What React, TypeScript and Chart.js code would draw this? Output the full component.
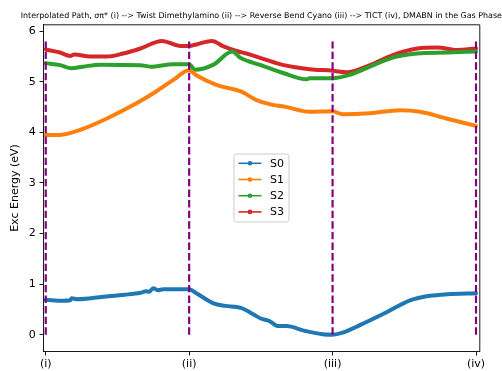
import React, { useEffect, useRef } from "react";
import { Chart, registerables } from "chart.js";

Chart.register(...registerables);

// Path coordinate (0 = (i), 1 = (ii), 2 = (iii), 3 = (iv)) and excitation energies in eV
const s0X = [0, 0.12, 0.17, 0.18, 0.22, 0.4, 0.55, 0.66, 0.7, 0.72, 0.75, 0.78, 0.82, 1.0, 1.05, 1.17, 1.25, 1.36, 1.45, 1.5, 1.56, 1.62, 1.68, 1.8, 1.93, 2.0, 2.07, 2.19, 2.38, 2.54, 2.68, 2.8, 3.0];
const s0Y = [0.69, 0.67, 0.68, 0.72, 0.7, 0.75, 0.79, 0.83, 0.86, 0.85, 0.92, 0.88, 0.9, 0.9, 0.82, 0.62, 0.57, 0.53, 0.4, 0.32, 0.27, 0.17, 0.17, 0.08, 0.01, 0.0, 0.04, 0.19, 0.45, 0.68, 0.77, 0.8, 0.82];

const s1X = [0, 0.1, 0.24, 0.43, 0.61, 0.77, 0.89, 1.0, 1.05, 1.19, 1.36, 1.47, 1.56, 1.68, 1.84, 2.0, 2.07, 2.26, 2.47, 2.61, 2.8, 3.0];
const s1Y = [3.95, 3.95, 4.05, 4.28, 4.54, 4.81, 5.04, 5.23, 5.13, 4.94, 4.81, 4.64, 4.56, 4.5, 4.41, 4.42, 4.36, 4.38, 4.44, 4.41, 4.27, 4.13];

const s2X = [0, 0.1, 0.18, 0.26, 0.38, 0.66, 0.73, 0.89, 1.0, 1.04, 1.17, 1.3, 1.36, 1.5, 1.66, 1.82, 1.84, 2.0, 2.12, 2.26, 2.42, 2.59, 2.8, 3.0];
const s2Y = [5.37, 5.33, 5.27, 5.3, 5.34, 5.33, 5.3, 5.35, 5.35, 5.24, 5.34, 5.6, 5.47, 5.33, 5.17, 5.05, 5.07, 5.07, 5.14, 5.3, 5.48, 5.56, 5.58, 5.6];

const s3X = [0, 0.1, 0.17, 0.2, 0.31, 0.43, 0.54, 0.66, 0.81, 0.94, 1.0, 1.05, 1.16, 1.24, 1.33, 1.4, 1.5, 1.66, 1.84, 2.0, 2.1, 2.26, 2.42, 2.59, 2.73, 2.87, 3.0];
const s3Y = [5.64, 5.58, 5.51, 5.54, 5.5, 5.5, 5.56, 5.66, 5.81, 5.71, 5.71, 5.74, 5.81, 5.7, 5.61, 5.56, 5.47, 5.33, 5.25, 5.22, 5.19, 5.33, 5.53, 5.66, 5.68, 5.63, 5.66];

const seriesNames = ["S0", "S1", "S2", "S3"];
const seriesColors = ["#1f77b4", "#ff7f0e", "#2ca02c", "#d62728"];

// Geometry markers along the path
const markerPositions = [0, 1, 2, 3];
const markerLabels = ["(i)", "(ii)", "(iii)", "(iv)"];
const markerTop = 5.8;

const yTicks = [0, 1, 2, 3, 4, 5, 6];

const titleText =
  "Interpolated Path, σπ* (i) --> Twist Dimethylamino (ii) --> Reverse Bend Cyano (iii) --> TICT (iv), DMABN in the Gas Phase";
const yLabel = "Exc Energy (eV)";

const FONT = '"DejaVu Sans", "Liberation Sans", sans-serif';

const pairs = (xs: number[], ys: number[]) => xs.map((x, i) => ({ x, y: ys[i] }));

const decorPlugin = {
  id: "decor",
  afterDatasetsDraw(chart: any) {
    const { ctx, chartArea } = chart;
    const { left, right, top, bottom } = chartArea;
    ctx.save();
    // top and right spines
    ctx.strokeStyle = "#000";
    ctx.lineWidth = 0.9;
    ctx.beginPath();
    ctx.moveTo(left, top + 0.5);
    ctx.lineTo(right + 0.5, top + 0.5);
    ctx.lineTo(right + 0.5, bottom);
    ctx.stroke();

    // title
    ctx.fillStyle = "#000";
    ctx.font = `7.95px ${FONT}`;
    ctx.textAlign = "center";
    ctx.textBaseline = "middle";
    ctx.fillText(titleText, (left + right) / 2, 15.5);

    // y-axis label
    ctx.font = `11px ${FONT}`;
    ctx.save();
    ctx.translate(15, (top + bottom) / 2);
    ctx.rotate(-Math.PI / 2);
    ctx.fillText(yLabel, 0, 0);
    ctx.restore();

    // legend
    const bx = 234, by = 154, bw = 55, bh = 68, r = 2.5;
    ctx.beginPath();
    ctx.moveTo(bx + r, by);
    ctx.arcTo(bx + bw, by, bx + bw, by + bh, r);
    ctx.arcTo(bx + bw, by + bh, bx, by + bh, r);
    ctx.arcTo(bx, by + bh, bx, by, r);
    ctx.arcTo(bx, by, bx + bw, by, r);
    ctx.closePath();
    ctx.fillStyle = "rgba(255,255,255,0.8)";
    ctx.fill();
    ctx.strokeStyle = "#cccccc";
    ctx.lineWidth = 1;
    ctx.stroke();

    const rowY = [163.3, 179.5, 195.7, 211.9];
    seriesNames.forEach((name, i) => {
      const y = rowY[i];
      ctx.strokeStyle = seriesColors[i];
      ctx.lineWidth = 1.6;
      ctx.beginPath();
      ctx.moveTo(238.5, y);
      ctx.lineTo(261.5, y);
      ctx.stroke();
      ctx.fillStyle = seriesColors[i];
      ctx.beginPath();
      ctx.arc(250, y, 2.3, 0, Math.PI * 2);
      ctx.fill();
      ctx.fillStyle = "#000";
      ctx.font = `11px ${FONT}`;
      ctx.textAlign = "left";
      ctx.textBaseline = "middle";
      ctx.fillText(name, 270, y + 0.5);
    });
    ctx.restore();
  },
};

export default function App() {
  const canvasRef = useRef<HTMLCanvasElement | null>(null);

  useEffect(() => {
    const canvas = canvasRef.current;
    if (!canvas) return;

    const curveSets = [
      pairs(s0X, s0Y),
      pairs(s1X, s1Y),
      pairs(s2X, s2Y),
      pairs(s3X, s3Y),
    ].map((data, i) => ({
      label: seriesNames[i],
      data,
      borderColor: seriesColors[i],
      backgroundColor: seriesColors[i],
      borderWidth: 4,
      pointRadius: 0,
      showLine: true,
      cubicInterpolationMode: "monotone" as const,
      borderCapStyle: "round" as const,
      borderJoinStyle: "round" as const,
      order: 2,
    }));

    const markerSets = markerPositions.map((p) => ({
      label: "marker",
      data: [
        { x: p, y: 0 },
        { x: p, y: markerTop },
      ],
      borderColor: "#800080",
      borderWidth: 2.2,
      borderDash: [7.4, 3.2],
      pointRadius: 0,
      showLine: true,
      order: 1,
    }));

    const chart = new Chart(canvas, {
      type: "scatter",
      data: { datasets: [...curveSets, ...markerSets] as any },
      options: {
        animation: false,
        responsive: false,
        devicePixelRatio: 1,
        layout: { padding: { top: 24.3, right: 22.7, left: 0, bottom: 0 } },
        plugins: {
          legend: { display: false },
          title: { display: false },
          tooltip: { enabled: false },
        },
        scales: {
          x: {
            type: "linear",
            min: -0.017,
            max: 3.023,
            afterFit: (s: any) => {
              s.height = 19.3;
            },
            afterBuildTicks: (s: any) => {
              s.ticks = markerPositions.map((v) => ({ value: v }));
            },
            ticks: {
              color: "#000",
              font: { family: FONT, size: 11 },
              padding: 2,
              maxRotation: 0,
              callback: (v: any) => {
                const idx = markerPositions.indexOf(Number(v));
                return idx >= 0 ? markerLabels[idx] : "";
              },
            },
            grid: {
              display: true,
              drawOnChartArea: false,
              drawTicks: true,
              tickLength: 3.8,
              tickColor: "#000",
              lineWidth: 0.9,
            },
            border: { display: true, color: "#000", width: 0.9 },
          },
          y: {
            type: "linear",
            min: -0.336,
            max: 6.138,
            afterFit: (s: any) => {
              s.width = 43.3;
            },
            afterBuildTicks: (s: any) => {
              s.ticks = yTicks.map((v) => ({ value: v }));
            },
            ticks: {
              color: "#000",
              font: { family: FONT, size: 11 },
              padding: 3.8,
            },
            grid: {
              display: true,
              drawOnChartArea: false,
              drawTicks: true,
              tickLength: 3.8,
              tickColor: "#000",
              lineWidth: 0.9,
            },
            border: { display: true, color: "#000", width: 0.9 },
          },
        },
      },
      plugins: [decorPlugin],
    });

    return () => chart.destroy();
  }, []);

  return (
    <div
      style={{
        position: "fixed",
        left: 0,
        top: 0,
        width: 502,
        height: 371,
        background: "#fff",
      }}
    >
      <canvas ref={canvasRef} width={502} height={371} style={{ width: 502, height: 371 }} />
    </div>
  );
}
